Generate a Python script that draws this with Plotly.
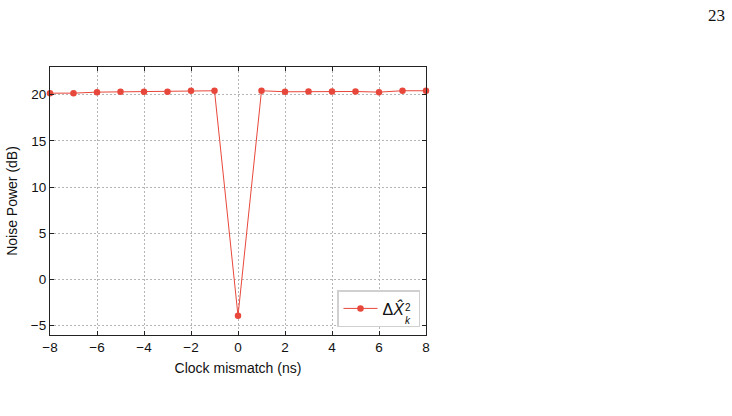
import plotly.graph_objects as go

mismatch_ns = [-8, -7, -6, -5, -4, -3, -2, -1, 0, 1, 2, 3, 4, 5, 6, 7, 8]
noise_power_db = [20.17, 20.17, 20.28, 20.32, 20.32, 20.32, 20.43, 20.43, -3.92,
                  20.43, 20.32, 20.35, 20.35, 20.35, 20.28, 20.43, 20.43]
x_ticks = [-8, -6, -4, -2, 0, 2, 4, 6, 8]
y_ticks = [-5, 0, 5, 10, 15, 20]

red = "#e8473b"
font = "Liberation Sans, Arial, sans-serif"
ink = "#111111"

# plot area in pixels
L, R, T, B = 50, 426, 66.5, 335
W, H = R - L, B - T


def px_x(px):
    return (px - L) / W


def px_y(py):
    return (B - py) / H


fig = go.Figure()
fig.add_trace(go.Scatter(
    x=mismatch_ns, y=noise_power_db, mode="lines+markers",
    line=dict(color=red, width=1),
    marker=dict(color=red, size=6.5),
    name="Δ<i>X̂</i>&nbsp;&nbsp;",
    cliponaxis=False,
))

axis_common = dict(
    showline=True, linecolor="#222222", linewidth=1.2, mirror="ticks",
    ticks="inside", ticklen=4, tickwidth=1, tickcolor="#222222",
    showgrid=True, gridcolor="#b5b5b5", gridwidth=1, griddash="1.5px,2.5px",
    zeroline=False,
    tickfont=dict(family=font, size=13.5, color=ink),
)

fig.update_xaxes(range=[-8, 8], tickvals=x_ticks, **axis_common,
                 title=dict(text="Clock mismatch (ns)", standoff=8,
                            font=dict(family=font, size=14, color=ink)))
fig.update_yaxes(range=[-6, 23], tickvals=y_ticks, **axis_common,
                 title=dict(text="Noise Power (dB)", standoff=9,
                            font=dict(family=font, size=14, color=ink)))

fig.update_layout(
    width=732, height=416,
    margin=dict(l=L, r=732 - R, t=T, b=416 - B, autoexpand=False),
    paper_bgcolor="white", plot_bgcolor="white",
    showlegend=True,
    legend=dict(x=px_x(420), y=px_y(327), xanchor="right", yanchor="bottom",
                bgcolor="white", bordercolor="#d0d0d0", borderwidth=1.5,
                font=dict(family=font, size=16, color=ink),
                itemwidth=34),
    annotations=[
        dict(text="23", x=px_x(716), y=px_y(15), xref="paper", yref="paper",
             showarrow=False, xanchor="center", yanchor="middle",
             font=dict(family="Liberation Serif, serif", size=17, color=ink)),
        dict(text="2", x=px_x(404), y=px_y(313.5), xref="paper", yref="paper",
             showarrow=False, xanchor="left", yanchor="bottom", borderpad=0,
             font=dict(family=font, size=10, color=ink)),
        dict(text="<i>k</i>", x=px_x(404), y=px_y(313.5), xref="paper", yref="paper",
             showarrow=False, xanchor="left", yanchor="top", borderpad=0,
             font=dict(family=font, size=10, color=ink)),
    ],
)

fig.write_html("out.html")
